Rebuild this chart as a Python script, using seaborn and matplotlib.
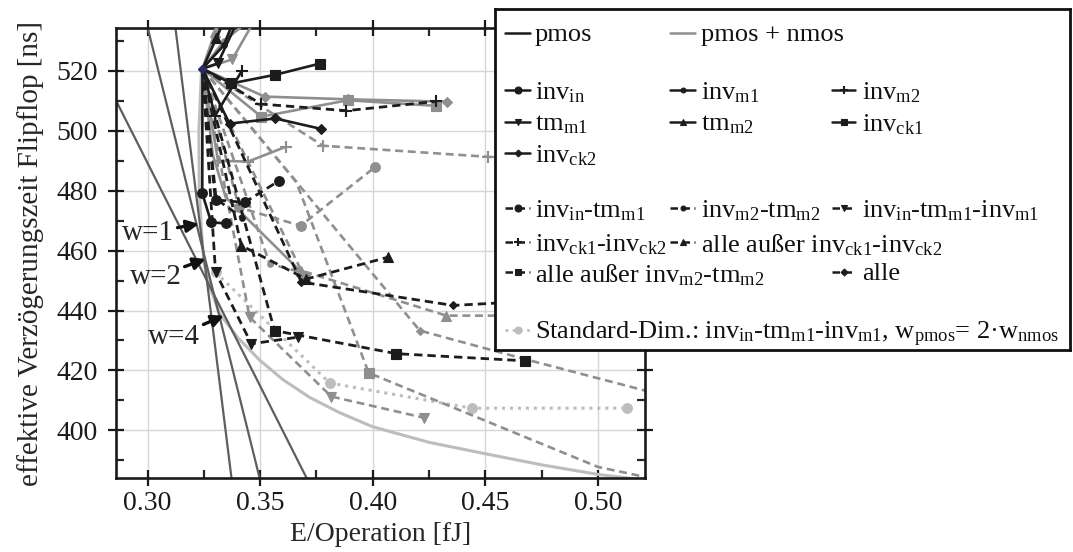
import numpy as np
import pandas as pd
import matplotlib
matplotlib.use("Agg")
import matplotlib.pyplot as plt
import seaborn as sns

sns.set_theme(style="ticks")
plt.rcParams["font.family"] = ["Liberation Serif", "DejaVu Serif"]
plt.rcParams["mathtext.fontset"] = "custom"
plt.rcParams["mathtext.rm"] = "Liberation Serif"
plt.rcParams["mathtext.it"] = "Liberation Serif:italic"

# ---- data (x: E/Operation [fJ], y: delay [ns]) ----
hub_x, hub_y = 0.3244, 520.7

# theoretical reference lines
w1_x = [0.3124, 0.3373]
w1_y = [534.3, 384.0]
w2_x = [0.3001, 0.3498]
w2_y = [534.3, 384.0]
w4_x = [0.2858, 0.3707]
w4_y = [510.4, 384.0]
curve_x = [0.3240, 0.3228, 0.3230, 0.3240, 0.3250, 0.3280, 0.3320, 0.3400, 0.3500,
           0.3600, 0.3720, 0.3850, 0.4000, 0.4250, 0.4500, 0.4750, 0.5000, 0.5220]
curve_y = [520.5, 500.0, 480.0, 466.0, 456.0, 447.0, 439.0, 431.0, 423.3,
           417.0, 411.0, 406.0, 401.2, 396.0, 392.2, 388.5, 385.3, 383.3]

# pmos only (solid black)
p_inv_in_x = [hub_x, 0.3243, 0.3283, 0.3350]
p_inv_in_y = [hub_y, 479.1, 469.4, 469.1]
p_inv_m1_x = [hub_x, 0.3338, 0.3390]
p_inv_m1_y = [hub_y, 528.5, 538.0]
p_inv_m2_x = [hub_x, 0.3300, 0.3418]
p_inv_m2_y = [hub_y, 505.0, 519.9]
p_tm_m1_x = [hub_x, 0.3312, 0.3405]
p_tm_m1_y = [hub_y, 522.5, 537.5]
p_tm_m2_x = [hub_x, 0.3306, 0.3360]
p_tm_m2_y = [hub_y, 531.0, 540.0]
p_inv_ck1_x = [hub_x, 0.3372, 0.3568, 0.3764]
p_inv_ck1_y = [hub_y, 515.8, 518.7, 522.4]
p_inv_ck2_x = [hub_x, 0.3364, 0.3568, 0.3772]
p_inv_ck2_y = [hub_y, 502.4, 504.1, 500.6]

# pmos + nmos (solid gray)
n_inv_in_x = [hub_x, 0.3290, 0.3347, 0.3700]
n_inv_in_y = [hub_y, 492.0, 477.8, 451.5]
n_inv_m1_x = [hub_x, 0.3340, 0.3470]
n_inv_m1_y = [hub_y, 530.0, 538.0]
n_inv_m2_x = [hub_x, 0.3313, 0.3446, 0.3616]
n_inv_m2_y = [hub_y, 490.0, 489.7, 494.7]
n_tm_m1_x = [hub_x, 0.3376, 0.3480]
n_tm_m1_y = [hub_y, 523.8, 537.5]
n_tm_m2_x = [hub_x, 0.3300, 0.3350]
n_tm_m2_y = [hub_y, 533.0, 540.0]
n_inv_ck1_x = [hub_x, 0.3505, 0.3890, 0.4283]
n_inv_ck1_y = [hub_y, 504.7, 510.2, 508.3]
n_inv_ck2_x = [hub_x, 0.3520, 0.3890, 0.4328]
n_inv_ck2_y = [hub_y, 511.4, 510.5, 509.7]

# combinations, pmos only (dashed black)
pc_in_tm_x = [hub_x, 0.3305, 0.3431, 0.3584]
pc_in_tm_y = [hub_y, 476.9, 476.1, 483.3]
pc_m2_tm_x = [hub_x, 0.3300, 0.3420]
pc_m2_tm_y = [hub_y, 477.5, 471.0]
pc_in_tm_inv_x = [hub_x, 0.3302, 0.3461, 0.3668]
pc_in_tm_inv_y = [hub_y, 452.8, 428.9, 431.1]
pc_ck_x = [hub_x, 0.3505, 0.3883, 0.4283]
pc_ck_y = [hub_y, 508.9, 506.7, 509.8]
pc_no_ck_x = [hub_x, 0.3416, 0.3705, 0.4068]
pc_no_ck_y = [hub_y, 461.7, 450.5, 457.8]
pc_no_m2_x = [hub_x, 0.3564, 0.4105, 0.4678]
pc_no_m2_y = [hub_y, 433.3, 425.6, 423.2]
pc_all_x = [hub_x, 0.3683, 0.4357, 0.4800]
pc_all_y = [hub_y, 449.5, 441.7, 443.5]

# combinations, pmos + nmos (dashed gray)
nc_in_tm_x = [hub_x, 0.3406, 0.3680, 0.4009]
nc_in_tm_y = [hub_y, 474.4, 468.3, 487.8]
nc_m2_tm_x = [hub_x, 0.3542, 0.3683]
nc_m2_tm_y = [hub_y, 455.6, 452.8]
nc_in_tm_inv_x = [hub_x, 0.3453, 0.3816, 0.4228]
nc_in_tm_inv_y = [hub_y, 437.8, 411.3, 404.2]
nc_ck_x = [hub_x, 0.3779, 0.4513, 0.4900]
nc_ck_y = [hub_y, 495.0, 491.3, 490.5]
nc_no_ck_x = [hub_x, 0.3683, 0.4327, 0.4800]
nc_no_ck_y = [hub_y, 453.3, 438.3, 438.3]
nc_no_m2_x = [hub_x, 0.3660, 0.3982, 0.5000, 0.5300]
nc_no_m2_y = [hub_y, 483.0, 419.2, 387.8, 383.0]
nc_all_x = [hub_x, 0.4209, 0.4700, 0.5300]
nc_all_y = [hub_y, 433.3, 423.3, 411.5]

# standard dimensioning (dotted light gray)
std_x = [0.3302, 0.3809, 0.4439, 0.5127]
std_y = [452.8, 415.8, 407.4, 407.4]

x_ticks = [0.30, 0.35, 0.40, 0.45, 0.50]
y_ticks = [400, 420, 440, 460, 480, 500, 520]

BLACK = "#1c1c1c"
GRAY = "#8f8f8f"
LIGHT = "#bdbdbd"
DARK = "#5e5e5e"
DASH = (0, (3.0, 1.8))
DOT = (0, (1.0, 1.6))

fig = plt.figure(figsize=(10.73, 5.52), dpi=100)
ax = fig.add_axes([116 / 1073, 1 - 478 / 552, 529 / 1073, 450 / 552])


def draw(xs, ys, color, ls, marker, ms, z=3, lw=1.8, every=None):
    if every is None:
        every = list(range(1, len(xs))) if xs[0] == hub_x else list(range(len(xs)))
    sns.lineplot(x=xs, y=ys, ax=ax, sort=False, estimator=None, color=color,
                 linestyle=ls, lw=lw, marker=marker, markersize=ms,
                 markeredgecolor=color, markerfacecolor=color, markevery=every,
                 markeredgewidth=1.5 if marker == "+" else 0.8, zorder=z)


# reference lines
for xs, ys in [(w1_x, w1_y), (w2_x, w2_y), (w4_x, w4_y)]:
    draw(xs, ys, DARK, "-", None, 0, z=2, lw=1.6)
draw(curve_x, curve_y, LIGHT, "-", None, 0, z=1.8, lw=2.2)

gray_dashed = [(nc_in_tm_x, nc_in_tm_y, "o", 7, None), (nc_m2_tm_x, nc_m2_tm_y, "o", 4, None),
               (nc_in_tm_inv_x, nc_in_tm_inv_y, "v", 7, None), (nc_ck_x, nc_ck_y, "+", 8, None),
               (nc_no_ck_x, nc_no_ck_y, "^", 7, None), (nc_no_m2_x, nc_no_m2_y, "s", 7, [2]),
               (nc_all_x, nc_all_y, "D", 4, [1])]
for xs, ys, m, s, ev in gray_dashed:
    draw(xs, ys, GRAY, DASH, m, s, z=2.5, lw=1.9, every=ev)

draw(std_x, std_y, LIGHT, DOT, "o", 7, z=2.4, lw=2.2)

gray_solid = [(n_inv_in_x, n_inv_in_y, "o", 7, [3]), (n_inv_m1_x, n_inv_m1_y, "o", 4, None),
              (n_inv_m2_x, n_inv_m2_y, "+", 8, None), (n_tm_m1_x, n_tm_m1_y, "v", 7, None),
              (n_tm_m2_x, n_tm_m2_y, "^", 7, None), (n_inv_ck1_x, n_inv_ck1_y, "s", 7, None),
              (n_inv_ck2_x, n_inv_ck2_y, "D", 5, None)]
for xs, ys, m, s, ev in gray_solid:
    draw(xs, ys, GRAY, "-", m, s, z=2.7, lw=1.9, every=ev)

black_dashed = [(pc_in_tm_x, pc_in_tm_y, "o", 7), (pc_m2_tm_x, pc_m2_tm_y, "o", 4),
                (pc_in_tm_inv_x, pc_in_tm_inv_y, "v", 7), (pc_ck_x, pc_ck_y, "+", 8),
                (pc_no_ck_x, pc_no_ck_y, "^", 7), (pc_no_m2_x, pc_no_m2_y, "s", 7),
                (pc_all_x, pc_all_y, "D", 4)]
for xs, ys, m, s in black_dashed:
    draw(xs, ys, BLACK, DASH, m, s, z=3, lw=2.0)

black_solid = [(p_inv_in_x, p_inv_in_y, "o", 7), (p_inv_m1_x, p_inv_m1_y, "o", 4),
               (p_inv_m2_x, p_inv_m2_y, "+", 8), (p_tm_m1_x, p_tm_m1_y, "v", 7),
               (p_tm_m2_x, p_tm_m2_y, "^", 7), (p_inv_ck1_x, p_inv_ck1_y, "s", 7),
               (p_inv_ck2_x, p_inv_ck2_y, "D", 5)]
for xs, ys, m, s in black_solid:
    draw(xs, ys, BLACK, "-", m, s, z=3.2, lw=1.9)

# small marker on the common start point
ax.plot([hub_x], [hub_y], marker="D", ms=4, color="#2a2a6a", zorder=4)

# w annotations
arrow = dict(arrowstyle="-|>", color="#111111", lw=2.4, mutation_scale=18,
             shrinkA=0, shrinkB=0)
ax.annotate("w=1", xy=(0.3228, 468.9), xytext=(0.3003, 466.0), ha="center",
            va="center", fontsize=21, arrowprops=arrow, zorder=5)
ax.annotate("w=2", xy=(0.3258, 457.2), xytext=(0.3035, 451.1), ha="center",
            va="center", fontsize=21, arrowprops=arrow, zorder=5)
ax.annotate("w=4", xy=(0.3339, 438.3), xytext=(0.3118, 431.1), ha="center",
            va="center", fontsize=21, arrowprops=arrow, zorder=5)

ax.set_xticks(x_ticks)
ax.set_xticklabels([f"{v:.2f}" for v in x_ticks])
ax.set_yticks(y_ticks)
ax.set_xticks(np.arange(0.325, 0.52, 0.05), minor=True)
ax.set_yticks(np.arange(390, 535, 20), minor=True)
ax.set_xlim(0.286, 0.5209)
ax.set_ylim(384.1, 534.3)
ax.grid(True, which="major", color="#d6d6d6", lw=1.0, zorder=0)
ax.tick_params(which="major", direction="inout", length=12, width=1.6,
               top=True, right=True, labelsize=20, colors="#1a1a1a")
ax.tick_params(axis="y", which="major", pad=7)
ax.tick_params(which="minor", direction="in", length=6, width=1.6,
               top=True, right=True)
for sp in ax.spines.values():
    sp.set_linewidth(1.9)
    sp.set_color("#1a1a1a")
ax.set_xlabel("E/Operation [fJ]", fontsize=20, labelpad=4)
ax.set_ylabel("effektive Verzögerungszeit Flipflop [ns]", fontsize=21, labelpad=9)

# ---- hand-built legend box ----
lg = fig.add_axes([495 / 1073, 1 - 350 / 552, 575 / 1073, 341 / 552])
lg.set_xlim(0, 575)
lg.set_ylim(341, 0)
lg.set_xticks([])
lg.set_yticks([])
lg.set_facecolor("white")
for sp in lg.spines.values():
    sp.set_linewidth(2.0)
    sp.set_color("#111111")
lg.set_zorder(10)

cols = [(10, 35, 40), (175, 200, 206), (337, 360, 367)]
rows = [24, 81, 113, 144, 199, 233, 263, 321]


def entry(col, row, color, ls, marker, ms, label, lw=1.8):
    x0, x1, xt = cols[col]
    y = rows[row]
    lg.plot([x0, x1], [y, y], color=color, ls=ls, lw=lw)
    if marker:
        lg.plot([(x0 + x1) / 2], [y], color=color, marker=marker, ms=ms,
                mec=color, mew=1.5 if marker == "+" else 0.8)
    lg.text(xt, y, label, fontsize=19, va="center_baseline", ha="left",
            color="#111111")


entry(0, 0, BLACK, "-", None, 0, "pmos")
entry(1, 0, GRAY, "-", None, 0, "pmos + nmos")
entry(0, 1, BLACK, "-", "o", 5, r"inv$_{\mathrm{in}}$")
entry(1, 1, BLACK, "-", "o", 3.5, r"inv$_{\mathrm{m1}}$")
entry(2, 1, BLACK, "-", "+", 6, r"inv$_{\mathrm{m2}}$")
entry(0, 2, BLACK, "-", "v", 5, r"tm$_{\mathrm{m1}}$")
entry(1, 2, BLACK, "-", "^", 5, r"tm$_{\mathrm{m2}}$")
entry(2, 2, BLACK, "-", "s", 5, r"inv$_{\mathrm{ck1}}$")
entry(0, 3, BLACK, "-", "D", 3.5, r"inv$_{\mathrm{ck2}}$")
entry(0, 4, BLACK, DASH, "o", 5, r"inv$_{\mathrm{in}}$-tm$_{\mathrm{m1}}$")
entry(1, 4, BLACK, DASH, "o", 3.5, r"inv$_{\mathrm{m2}}$-tm$_{\mathrm{m2}}$")
entry(2, 4, BLACK, DASH, "v", 5,
      r"inv$_{\mathrm{in}}$-tm$_{\mathrm{m1}}$-inv$_{\mathrm{m1}}$")
entry(0, 5, BLACK, DASH, "+", 6, r"inv$_{\mathrm{ck1}}$-inv$_{\mathrm{ck2}}$")
entry(1, 5, BLACK, DASH, "^", 5,
      r"alle außer inv$_{\mathrm{ck1}}$-inv$_{\mathrm{ck2}}$")
entry(0, 6, BLACK, DASH, "s", 5, r"alle außer inv$_{\mathrm{m2}}$-tm$_{\mathrm{m2}}$")
entry(2, 6, BLACK, DASH, "D", 3.5, "alle")
entry(0, 7, LIGHT, DOT, "o", 5,
      r"Standard-Dim.: inv$_{\mathrm{in}}$-tm$_{\mathrm{m1}}$-inv$_{\mathrm{m1}}$, "
      r"w$_{\mathrm{pmos}}$= 2·w$_{\mathrm{nmos}}$", lw=2.0)

fig.savefig("out.png", dpi=100)
